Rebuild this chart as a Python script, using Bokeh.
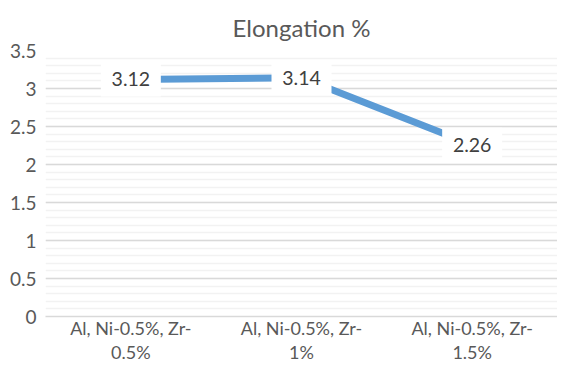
from bokeh.plotting import figure
from bokeh.models import Range1d, FixedTicker, CustomJSTickFormatter
from bokeh.core.properties import value
from bokeh.embed import file_html
from bokeh.resources import INLINE

title = "Elongation %"
categories = ["Al, Ni-0.5%, Zr-\n0.5%", "Al, Ni-0.5%, Zr-\n1%", "Al, Ni-0.5%, Zr-\n1.5%"]
elongation = [3.12, 3.14, 2.26]
value_labels = ["3.12", "3.14", "2.26"]
y_min, y_max = 0, 3.5
y_ticks = [0, 0.5, 1, 1.5, 2, 2.5, 3, 3.5]
y_minor_ticks = [round(0.1 * k, 1) for k in range(36)]

FONT = "Lato"
TXT = "#595959"

p = figure(x_range=categories, y_range=Range1d(y_min, y_max), width=557, height=365,
           output_backend="svg", toolbar_location=None,
           min_border_left=45, min_border_right=0, min_border_top=50, min_border_bottom=44)
p.outline_line_color = None
p.background_fill_color = "white"
p.border_fill_color = "white"

p.title.text = title
p.title.align = "center"
p.title.vertical_align = "bottom"
p.title.text_font = FONT
p.title.text_font_size = "24px"
p.title.text_font_style = "normal"
p.title.text_color = TXT
p.title.standoff = 18
p.title.offset = 3

p.line(x=categories, y=elongation, line_color="#5B9BD5", line_width=7)

p.rect(x=categories, y=elongation, width=60, height=34,
       width_units="screen", height_units="screen",
       fill_color="white", line_color=None)
p.text(x=categories, y=elongation, text=value_labels, text_align="center",
       text_baseline="middle", text_font=value(FONT), text_font_size="19.5px",
       text_color="#404040")

# y axis
yax = p.yaxis[0]
yax.ticker = FixedTicker(ticks=y_ticks, minor_ticks=y_minor_ticks)
yax.formatter = CustomJSTickFormatter(code="return tick.toString();")
yax.axis_line_color = None
yax.major_tick_line_color = None
yax.minor_tick_line_color = None
yax.major_tick_out = 0
yax.major_tick_in = 0
yax.minor_tick_out = 0
yax.major_label_text_font = FONT
yax.major_label_text_font_size = "19px"
yax.major_label_text_color = TXT
yax.major_label_standoff = 9

p.ygrid.grid_line_color = "#D9D9D9"
p.ygrid.grid_line_width = 1.3
p.ygrid.minor_grid_line_color = "#F2F2F2"
p.ygrid.minor_grid_line_width = 1.3
p.xgrid.grid_line_color = None

xax = p.xaxis[0]
xax.axis_line_color = "#D9D9D9"
xax.axis_line_width = 1.3
xax.major_tick_line_color = None
xax.minor_tick_line_color = None
xax.major_tick_out = 0
xax.major_tick_in = 0
xax.minor_tick_out = 0
xax.major_label_text_font = FONT
xax.major_label_text_font_size = "18px"
xax.major_label_text_line_height = 1.1
xax.major_label_text_color = TXT
xax.major_label_standoff = 0
xax.major_label_orientation = "horizontal"

open("out.html", "w").write(file_html(p, INLINE))
